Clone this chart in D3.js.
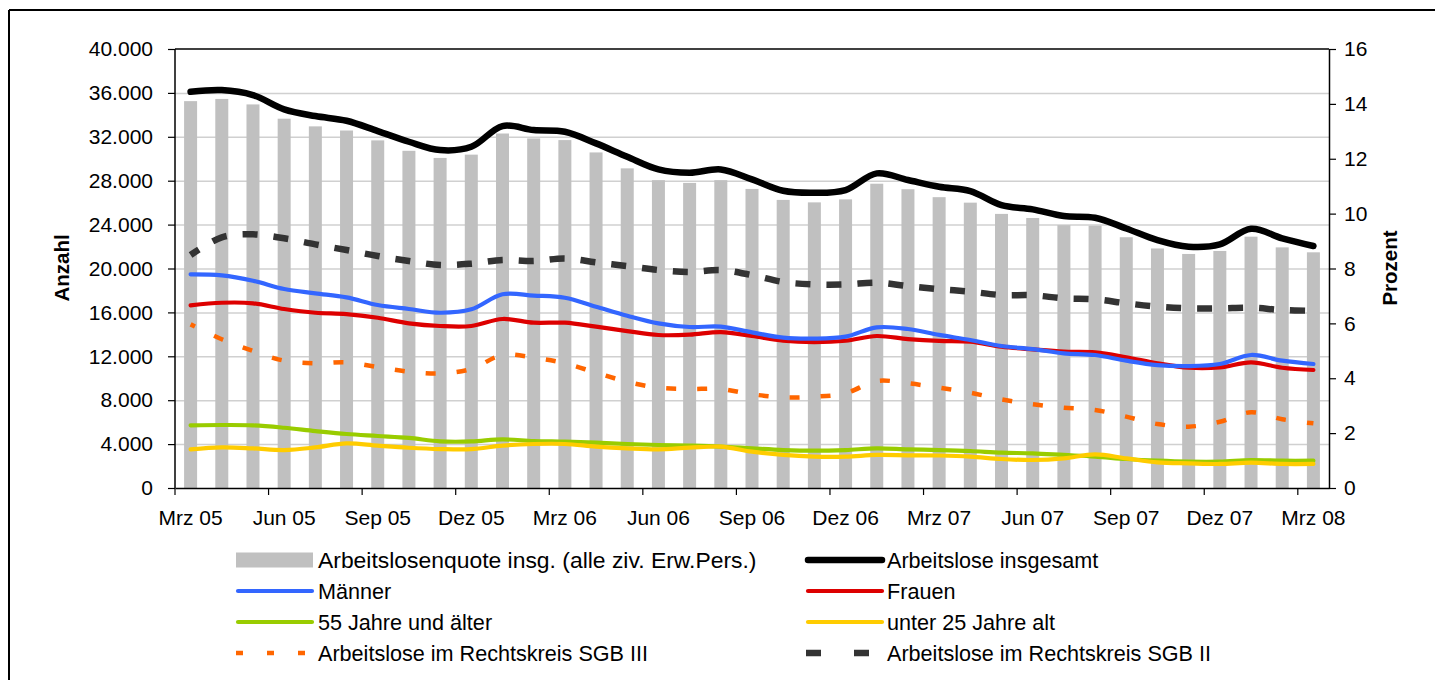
<!DOCTYPE html>
<html>
<head>
<meta charset="utf-8">
<script src="https://cdn.jsdelivr.net/npm/d3@7"></script>
<style>
  body { margin: 0; background: #fff; }
  svg { font-family: 'Liberation Sans', Arial, sans-serif; }
  .tick text { font-size: 21px; fill: #000; }
  .legend text { font-size: 21.6px; }
</style>
</head>
<body>
<svg id="chart" width="1435" height="680"></svg>
<script>
// Monate Mrz 05 .. Mrz 08
const months = [
    'Mrz 05', 'Apr 05', 'Mai 05', 'Jun 05', 'Jul 05', 'Aug 05', 'Sep 05', 'Okt 05', 'Nov 05', 'Dez 05',
    'Jan 06', 'Feb 06', 'Mrz 06', 'Apr 06', 'Mai 06', 'Jun 06', 'Jul 06', 'Aug 06', 'Sep 06', 'Okt 06',
    'Nov 06', 'Dez 06', 'Jan 07', 'Feb 07', 'Mrz 07', 'Apr 07', 'Mai 07', 'Jun 07', 'Jul 07', 'Aug 07',
    'Sep 07', 'Okt 07', 'Nov 07', 'Dez 07', 'Jan 08', 'Feb 08', 'Mrz 08'
];

// Arbeitslosenquote (Prozent, rechte Achse)
const quote = [
    14.1, 14.18, 13.98, 13.46, 13.18, 13.03, 12.67, 12.29, 12.03, 12.15,
    12.92, 12.74, 12.68, 12.23, 11.65, 11.22, 11.12, 11.22, 10.9, 10.5,
    10.41, 10.52, 11.09, 10.89, 10.6, 10.4, 9.99, 9.84, 9.58, 9.56,
    9.14, 8.73, 8.53, 8.64, 9.16, 8.77, 8.59
];

const insgesamt = [
    36100, 36260, 35800, 34500, 33890, 33460, 32520, 31550, 30790, 31090,
    32980, 32610, 32460, 31400, 30180, 29030, 28730, 29030, 28120, 27080,
    26900, 27150, 28670, 28060, 27450, 27060, 25780, 25390, 24780, 24630,
    23650, 22590, 21990, 22200, 23620, 22750, 22050
];

const maenner = [
    19470, 19380, 18890, 18130, 17740, 17370, 16670, 16310, 15970, 16280,
    17650, 17530, 17340, 16520, 15700, 15000, 14670, 14700, 14180, 13700,
    13610, 13790, 14640, 14490, 13950, 13480, 12940, 12660, 12270, 12120,
    11600, 11200, 11110, 11300, 12120, 11600, 11300
];

const frauen = [
    16640, 16880, 16830, 16310, 15970, 15850, 15510, 15000, 14760, 14760,
    15400, 15060, 15060, 14700, 14300, 13940, 13970, 14210, 13850, 13420,
    13300, 13420, 13850, 13570, 13400, 13330, 12880, 12630, 12420, 12360,
    11910, 11360, 10960, 10990, 11450, 10960, 10750
];

const ab55 = [
    5710, 5740, 5710, 5490, 5190, 4920, 4740, 4560, 4250, 4240,
    4430, 4280, 4220, 4130, 4010, 3920, 3860, 3770, 3610, 3460,
    3400, 3460, 3610, 3520, 3460, 3370, 3220, 3160, 3010, 2860,
    2640, 2490, 2400, 2400, 2550, 2490, 2490
];

const unter25 = [
    3520, 3700, 3610, 3460, 3700, 4070, 3860, 3670, 3550, 3540,
    3860, 4010, 4010, 3770, 3610, 3520, 3670, 3770, 3310, 3010,
    2860, 2860, 3010, 2980, 2960, 2860, 2640, 2550, 2700, 3070,
    2700, 2340, 2250, 2190, 2310, 2190, 2190
];

const sgb3 = [
    14910, 13550, 12480, 11600, 11360, 11450, 11020, 10600, 10440, 10850,
    12120, 11870, 11360, 10510, 9680, 9140, 9020, 9020, 8540, 8260,
    8320, 8630, 9750, 9540, 9140, 8680, 8080, 7630, 7320, 7110,
    6500, 5830, 5590, 6040, 6900, 6260, 5890
];

const sgb2 = [
    21230, 22840, 23110, 22750, 22200, 21680, 21140, 20680, 20320, 20440,
    20770, 20680, 20920, 20560, 20220, 19860, 19680, 19860, 19400, 18770,
    18550, 18550, 18710, 18400, 18120, 17890, 17580, 17560, 17280, 17190,
    16830, 16520, 16370, 16370, 16430, 16220, 16150
];

const leftTicks = [0, 4000, 8000, 12000, 16000, 20000, 24000, 28000, 32000, 36000, 40000];
const rightTicks = [0, 2, 4, 6, 8, 10, 12, 14, 16];

const lineSeries = [
    { name: 'Arbeitslose insgesamt', values: insgesamt, color: '#000000', width: 6.5, dash: null },
    { name: 'Männer', values: maenner, color: '#3366ff', width: 4.2, dash: null },
    { name: 'Frauen', values: frauen, color: '#dd0000', width: 4.2, dash: null },
    { name: '55 Jahre und älter', values: ab55, color: '#99cc00', width: 4.2, dash: null },
    { name: 'unter 25 Jahre alt', values: unter25, color: '#ffcc00', width: 4.2, dash: null },
    { name: 'Arbeitslose im Rechtskreis SGB III', values: sgb3, color: '#ff6600', width: 4.5, dash: '10,21' },
    { name: 'Arbeitslose im Rechtskreis SGB II', values: sgb2, color: '#333333', width: 6.5, dash: '15,16' },
];

const de = d3.formatLocale({ decimal: ',', thousands: '.', grouping: [3], currency: ['', ' €'] });
const fmt = de.format(',.0f');

const margin = { left: 175, right: 1329, top: 49, bottom: 488 };
const svg = d3.select('#chart');

// Rahmen
svg.append('line').attr('x1', 9).attr('x2', 1435).attr('y1', 10).attr('y2', 10)
    .attr('stroke', '#000').attr('stroke-width', 2);
svg.append('line').attr('x1', 9).attr('x2', 9).attr('y1', 10).attr('y2', 680)
    .attr('stroke', '#000').attr('stroke-width', 2);

const x = d3.scaleBand().domain(months).range([margin.left, margin.right]).padding(0);
const yL = d3.scaleLinear().domain([0, 40000]).range([margin.bottom, margin.top]);
const yR = d3.scaleLinear().domain([0, 16]).range([margin.bottom, margin.top]);
const bw = x.bandwidth();

// Gitternetz
svg.append('g')
    .selectAll('line')
    .data(leftTicks.slice(1, -1))
    .join('line')
    .attr('x1', margin.left).attr('x2', margin.right)
    .attr('y1', (d) => yL(d) + 0.5).attr('y2', (d) => yL(d) + 0.5)
    .attr('stroke', '#d0d0d0').attr('stroke-width', 1.5);

// Balken
svg.append('g')
    .selectAll('rect')
    .data(quote)
    .join('rect')
    .attr('x', (d, i) => x(months[i]) + bw / 2 - 6.5)
    .attr('width', 13)
    .attr('y', (d) => yR(d))
    .attr('height', (d) => yR(0) - yR(d))
    .attr('fill', '#c0c0c0');

// Linien
const line = d3.line()
    .x((d, i) => x(months[i]) + bw / 2)
    .y((d) => yL(d))
    .curve(d3.curveCatmullRom.alpha(0.5));

const drawOrder = [5, 6, 3, 4, 2, 1, 0];
svg.append('g')
    .selectAll('path')
    .data(drawOrder.map((i) => lineSeries[i]))
    .join('path')
    .attr('d', (d) => line(d.values))
    .attr('fill', 'none')
    .attr('stroke', (d) => d.color)
    .attr('stroke-width', (d) => d.width)
    .attr('stroke-dasharray', (d) => d.dash)
    .attr('stroke-dashoffset', (d) => (d.dash ? 5 : 0))
    .attr('stroke-linejoin', 'round')
    .attr('stroke-linecap', (d) => (d.dash ? 'butt' : 'round'));

// Rahmenlinie oben
svg.append('line').attr('x1', margin.left).attr('x2', margin.right)
    .attr('y1', margin.top).attr('y2', margin.top).attr('stroke', '#000').attr('stroke-width', 1.5);

// Achsen
const gL = svg.append('g').attr('transform', `translate(${margin.left},0)`)
    .call(d3.axisLeft(yL).tickValues(leftTicks).tickFormat(fmt).tickSize(7).tickPadding(15).tickSizeOuter(0));
const gR = svg.append('g').attr('transform', `translate(${margin.right},0)`)
    .call(d3.axisRight(yR).tickValues(rightTicks).tickSize(7).tickPadding(8).tickSizeOuter(0));
const gX = svg.append('g').attr('transform', `translate(0,${margin.bottom})`)
    .call(d3.axisBottom(x).tickValues(months.filter((d, i) => i % 3 == 0)).tickSize(7).tickPadding(15).tickSizeOuter(0));
gX.selectAll('.tick line').attr('x1', -bw / 2).attr('x2', -bw / 2);
[gL, gR, gX].forEach((g) => {
    g.select('.domain').attr('stroke', '#000').attr('stroke-width', 1.5);
    g.selectAll('.tick line').attr('stroke', '#000').attr('stroke-width', 1.2);
    g.selectAll('.tick text').attr('font-family', null).attr('font-size', null);
});
gL.select('.domain').remove();
gL.append('line').attr('y1', margin.top).attr('y2', margin.bottom).attr('stroke', '#000').attr('stroke-width', 1.5);

// Achsentitel
svg.append('text')
    .attr('transform', `translate(69,268) rotate(-90)`)
    .attr('text-anchor', 'middle')
    .attr('font-size', 20.5).attr('font-weight', 'bold')
    .text('Anzahl');
svg.append('text')
    .attr('transform', `translate(1397,268) rotate(-90)`)
    .attr('text-anchor', 'middle')
    .attr('font-size', 20.5).attr('font-weight', 'bold')
    .text('Prozent');

// Legende
const legendItems = [
    { name: 'Arbeitslosenquote insg. (alle ziv. Erw.Pers.)', type: 'bar', color: '#c0c0c0' },
    lineSeries[0], lineSeries[1], lineSeries[2], lineSeries[3], lineSeries[4], lineSeries[5], lineSeries[6],
];
const legend = svg.append('g').attr('class', 'legend')
    .selectAll('g')
    .data(legendItems)
    .join('g')
    .attr('transform', (d, i) => `translate(${i % 2 == 0 ? 236 : 806},${560 + Math.floor(i / 2) * 31})`);
legend.filter((d) => d.type == 'bar').append('rect')
    .attr('x', 0).attr('y', -7.5).attr('width', 77).attr('height', 15).attr('fill', (d) => d.color);
legend.filter((d) => d.type != 'bar' && !d.dash).append('line')
    .attr('x1', 2).attr('x2', 76).attr('y1', 0).attr('y2', 0)
    .attr('stroke', (d) => d.color).attr('stroke-width', (d) => d.width).attr('stroke-linecap', 'round');
legend.filter((d) => d.dash).append('line')
    .attr('x1', 0).attr('x2', 77).attr('y1', 0).attr('y2', 0)
    .attr('stroke', (d) => d.color).attr('stroke-width', (d) => d.width)
    .attr('stroke-dasharray', (d) => (d.width > 5 ? '15,33' : '7,24'));
legend.append('text')
    .attr('x', (d, i) => (i % 2 == 0 ? 82 : 81))
    .attr('dy', '0.35em')
    .text((d) => d.name);

// der erste Legendeneintrag ist im Original breiter gesetzt
legend.filter((d) => d.type == 'bar').select('text').each(function () {
    const len = this.getComputedTextLength();
    d3.select(this).attr('textLength', len * 1.06).attr('lengthAdjust', 'spacingAndGlyphs');
});
</script>
</body>
</html>
